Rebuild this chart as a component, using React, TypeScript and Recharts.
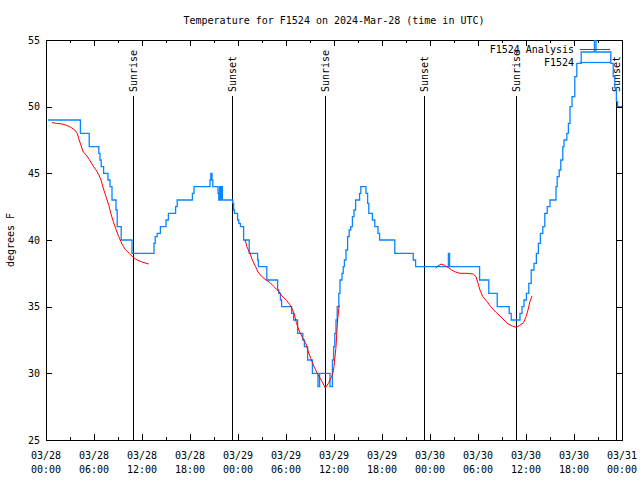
import React from 'react';
import { LineChart, Line, XAxis, YAxis, ReferenceLine, ReferenceArea } from 'recharts';

// ---- data (hours since 2024-03-28 00:00 UTC, degrees F) ----
const obsHours = [
  0.25, 4.3, 5.4, 6.6, 6.75, 6.9, 7.2, 7.75, 8.0, 8.25, 8.75, 8.9, 9.4, 10.75,
  13.5, 13.65, 13.9, 14.3, 15.0, 15.3, 16.2, 16.4, 18.3, 18.5, 20.5, 20.6, 20.75, 20.85,
  21.5, 21.6, 21.7, 21.8, 21.95, 22.05, 23.35, 23.45, 23.55, 23.95, 24.1, 24.3, 24.7,
  25.4, 26.45, 26.55, 27.6, 28.95, 29.1, 29.3, 29.45, 30.7, 30.95, 31.45, 32.1, 32.3,
  32.7, 33.3, 34.0, 34.2, 35.5, 35.8, 35.95, 36.1, 36.25, 36.4, 36.6, 36.75, 37.0,
  37.15, 37.3, 37.5, 37.7, 37.9, 38.1, 38.3, 38.5, 38.7, 39.2, 39.35, 40.0, 40.2,
  40.35, 40.8, 41.1, 41.5, 41.7, 43.6, 45.9, 46.2, 50.3, 50.45, 54.2, 55.35, 56.4,
  57.9, 58.15, 59.25, 59.5, 59.75, 60.05, 60.35, 60.65, 61.0, 61.3, 61.55, 61.8,
  62.1, 62.35, 62.65, 63.0, 63.75, 63.9, 64.15, 64.35, 64.6, 64.75, 65.1, 65.3,
  65.5, 65.75, 66.1, 66.35, 66.9, 68.55, 68.75, 70.6, 70.9, 71.1, 71.3, 71.45, 72,
];
const obsTemps = [
  49, 48, 47, 46.5, 46, 45.5, 45, 44.5, 44, 43, 42.25, 41, 40, 39,
  39.75, 40.25, 40.5, 41, 41.5, 42, 42.5, 43, 43.5, 44, 44.5, 45, 44.5, 44,
  43.5, 43, 44, 43, 44, 43, 42.75, 42.25, 42, 41.5, 41.25, 41, 40,
  39, 38.5, 38, 37, 36.25, 36, 35.5, 35, 34.5, 34, 33, 32.5, 32,
  31, 30, 29, 30, 29, 31, 32, 33, 34, 35, 36, 37, 37.5,
  38, 38.5, 39.25, 40.25, 40.75, 41, 41.75, 42.25, 43, 43.5, 44, 43.5, 42.75,
  42, 41.5, 41, 40.5, 40, 39, 38.5, 38, 39, 38, 37, 36, 35,
  34.5, 34, 34.5, 35, 35.5, 36, 36.75, 37.75, 38.25, 39, 39.75, 40.5,
  41, 42, 42.5, 43, 44, 44.75, 45.25, 46, 47, 47.5, 48, 48.75,
  50, 50.75, 52.25, 53.25, 54.1, 55, 54.1, 53.25, 52.25, 51.4, 50.4, 50, 50,
];

const anaHours = [
  0.75, 1.33, 2.0, 2.6, 3.1, 3.6, 3.9, 4.15, 4.4, 4.65, 5.0, 5.4, 5.85, 6.25, 6.6,
  6.9, 7.15, 7.5, 7.85, 8.1, 8.4, 8.75, 9.1, 9.5, 9.9, 10.4, 10.9, 11.4, 12.0, 12.85,
  18,
  24.9, 25.1, 25.5, 25.8, 26.2, 26.5, 26.9, 27.4, 28.0, 28.5, 29.0, 29.5, 30.1, 30.6,
  31.0, 31.3, 31.6, 32.0, 32.5, 32.8, 33.1, 33.5, 34.0, 34.5, 34.9, 35.3, 35.7, 35.85,
  36.0, 36.25, 36.45, 36.65,
  42,
  48.7, 49.0, 49.4, 49.8, 50.25, 50.7, 51.2, 51.75, 52.6, 53.4, 53.75, 54.0, 54.25,
  54.6, 55.1, 55.6, 56.2, 56.75, 57.25, 57.75, 58.3, 58.75, 59.2, 59.7, 60.0, 60.25,
  60.5, 60.75,
];
const anaTemps = [
  48.8, 48.75, 48.7, 48.6, 48.45, 48.25, 48.0, 47.5, 47.05, 46.6, 46.4, 46.05, 45.6, 45.25, 44.9,
  44.45, 43.9, 43.25, 42.6, 42.0, 41.4, 40.8, 40.25, 39.7, 39.3, 39.0, 38.7, 38.5, 38.35, 38.2,
  null,
  40.0, 39.5, 39.0, 38.5, 38.0, 37.6, 37.3, 37.05, 36.8, 36.5, 36.2, 35.8, 35.45, 35.05,
  34.5, 33.8, 33.25, 32.75, 32.2, 31.6, 31.1, 30.5, 29.9, 29.4, 28.9, 29.25, 29.75, 30.0,
  30.5, 32.0, 34.0, 35.1,
  null,
  37.9, 38.05, 38.2, 38.1, 37.95, 37.75, 37.6, 37.5, 37.5, 37.45, 37.25, 36.75, 36.25,
  35.75, 35.4, 35.0, 34.6, 34.3, 34.0, 33.7, 33.55, 33.45, 33.6, 33.8, 34.25, 34.75,
  35.4, 35.8,
];

const sunHours = [10.9, 23.3, 34.9, 47.3, 58.8, 71.3];
const sunLabels = ['Sunrise', 'Sunset', 'Sunrise', 'Sunset', 'Sunrise', 'Sunset'];

const xTicks = [0, 3, 6, 9, 12, 15, 18, 21, 24, 27, 30, 33, 36, 39, 42, 45, 48, 51, 54, 57, 60, 63, 66, 69, 72];
const xTickDates = ['03/28', '03/28', '03/28', '03/28', '03/29', '03/29', '03/29', '03/29', '03/30', '03/30', '03/30', '03/30', '03/31'];
const xTickTimes = ['00:00', '06:00', '12:00', '18:00', '00:00', '06:00', '12:00', '18:00', '00:00', '06:00', '12:00', '18:00', '00:00'];
const yTicks = [25, 30, 35, 40, 45, 50, 55];

const titleText = 'Temperature for F1524 on 2024-Mar-28 (time in UTC)';
const yLabelText = 'degrees F';
const anaName = 'F1524 Analysis';
const obsName = 'F1524';

// ---- layout / style ----
const W = 640;
const H = 480;
const PL = 46, PR = 622, PT = 40, PB = 440;
const FONT = '"DejaVu Sans Mono", "Liberation Mono", monospace';
const FS = 10;
const BLUE = '#0a84ff';
const RED = '#ff0000';

const obsData = obsHours.map((h, i) => ({ h, obs: obsTemps[i] }));
const anaData = anaHours.map((h, i) => ({ h, ana: anaTemps[i] }));

const XTick = (props: any) => {
  const { x, y, payload } = props;
  const h = payload.value as number;
  const major = h % 6 === 0;
  const len = major ? 6 : 3;
  const px = Math.round(x) + 0.5;
  const idx = h / 6;
  const ph = PB - PT;
  return (
    <g>
      <line x1={px} x2={px} y1={y} y2={y - len} stroke="#000" strokeWidth={1} shapeRendering="crispEdges" />
      <line x1={px} x2={px} y1={y - ph} y2={y - ph + len} stroke="#000" strokeWidth={1} shapeRendering="crispEdges" />
      {major && (
        <text x={x} y={y + 19} textAnchor="middle" fontFamily={FONT} fontSize={FS} fill="#000">
          {xTickDates[idx]}
        </text>
      )}
      {major && (
        <text x={x} y={y + 33} textAnchor="middle" fontFamily={FONT} fontSize={FS} fill="#000">
          {xTickTimes[idx]}
        </text>
      )}
    </g>
  );
};

const YTick = (props: any) => {
  const { x, y, payload } = props;
  const py = Math.round(y) + 0.5;
  const pw = PR - PL;
  return (
    <g>
      <line x1={x} x2={x + 6} y1={py} y2={py} stroke="#000" strokeWidth={1} shapeRendering="crispEdges" />
      <line x1={x + pw - 6} x2={x + pw} y1={py} y2={py} stroke="#000" strokeWidth={1} shapeRendering="crispEdges" />
      <text x={x - 6} y={y + 3.6} textAnchor="end" fontFamily={FONT} fontSize={FS} fill="#000">
        {payload.value}
      </text>
    </g>
  );
};

const makeSunShape = (label: string) => (props: any) => {
  const { x1, y1, y2 } = props;
  const top = Math.min(y1, y2);
  const bottom = Math.max(y1, y2);
  const px = Math.round(x1) + 0.5;
  return (
    <g>
      <line x1={px} x2={px} y1={top + 56} y2={bottom} stroke="#000" strokeWidth={1} shapeRendering="crispEdges" />
      <text
        transform={`translate(${x1 + 3.5},${top + 52}) rotate(-90)`}
        textAnchor="start"
        fontFamily={FONT}
        fontSize={FS}
        fill="#000"
      >
        {label}
      </text>
    </g>
  );
};

export default function App() {
  return (
    <div style={{ position: 'absolute', left: 0, top: 0, width: W, height: H, background: '#fff' }}>
      <LineChart width={W} height={H} margin={{ top: PT, right: W - PR, bottom: 0, left: 0 }}>
        <XAxis
          dataKey="h"
          type="number"
          domain={[0, 72]}
          ticks={xTicks}
          interval={0}
          allowDataOverflow
          height={H - PB}
          axisLine={false}
          tickLine={false}
          tickSize={0}
          tickMargin={0}
          tick={<XTick />}
        />
        <YAxis
          type="number"
          domain={[25, 55]}
          ticks={yTicks}
          interval={0}
          allowDataOverflow
          width={PL}
          axisLine={false}
          tickLine={false}
          tickSize={0}
          tickMargin={0}
          tick={<YTick />}
        />
        <ReferenceArea
          x1={0}
          x2={72}
          y1={25}
          y2={55}
          fill="none"
          fillOpacity={0}
          stroke="#000"
          strokeWidth={1}
          shapeRendering="crispEdges"
        />
        {sunHours.map((h, i) => (
          <ReferenceLine key={i} x={h} shape={makeSunShape(sunLabels[i])} />
        ))}
        <Line
          data={obsData}
          dataKey="obs"
          type="stepAfter"
          stroke={BLUE}
          strokeWidth={1.3}
          dot={false}
          activeDot={false}
          isAnimationActive={false}
        />
        <Line
          data={anaData}
          dataKey="ana"
          type="linear"
          stroke={RED}
          strokeWidth={1}
          dot={false}
          activeDot={false}
          connectNulls={false}
          isAnimationActive={false}
        />
      </LineChart>
      <svg
        width={W}
        height={H}
        style={{ position: 'absolute', left: 0, top: 0, pointerEvents: 'none' }}
      >
        <text x={(PL + PR) / 2} y={24} textAnchor="middle" fontFamily={FONT} fontSize={FS} fill="#000">
          {titleText}
        </text>
        <text
          transform={`translate(13.5,${(PT + PB) / 2}) rotate(-90)`}
          textAnchor="middle"
          fontFamily={FONT}
          fontSize={FS}
          fill="#000"
        >
          {yLabelText}
        </text>
        <text x={574} y={52.6} textAnchor="end" fontFamily={FONT} fontSize={FS} fill="#000">
          {anaName}
        </text>
        <line x1={580} x2={610} y1={49.5} y2={49.5} stroke={RED} strokeWidth={1} />
        <text x={574} y={65.6} textAnchor="end" fontFamily={FONT} fontSize={FS} fill="#000">
          {obsName}
        </text>
        <line x1={580} x2={610} y1={62.5} y2={62.5} stroke={BLUE} strokeWidth={1.3} />
      </svg>
    </div>
  );
}
